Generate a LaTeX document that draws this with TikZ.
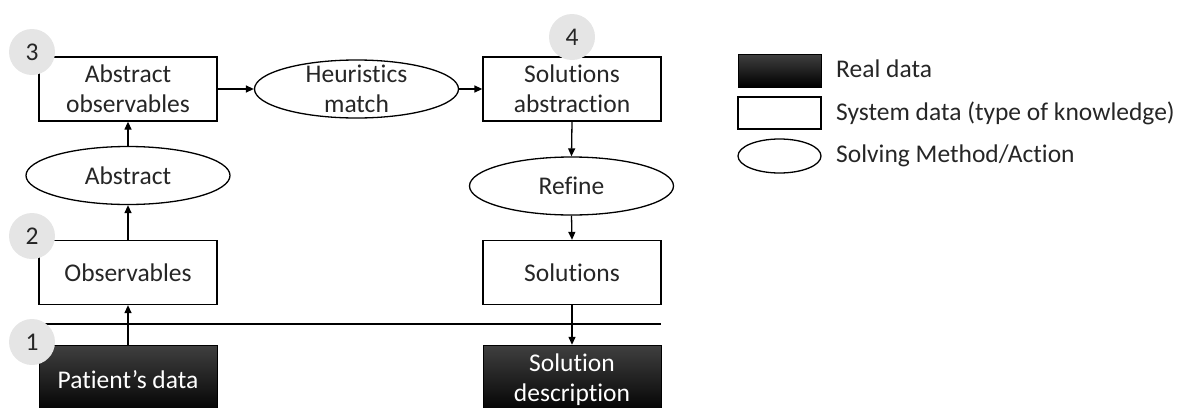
\documentclass[tikz,border=0pt]{standalone}
\usepackage{fontspec}
\setmainfont{Carlito}[Ligatures={NoCommon}]
\usetikzlibrary{arrows.meta,shapes.geometric}

\tikzset{
  sysbox/.style={draw, line width=1.3pt, fill=white, minimum width=178pt, minimum height=64pt, align=center, inner sep=0pt},
  realbox/.style={draw=black, top color=black!75, middle color=black, bottom color=black, text=white, minimum width=178pt, minimum height=70pt, align=center, inner sep=0pt},
  oval/.style={draw, ellipse, line width=1.3pt, fill=white, minimum width=204pt, minimum height=58pt, inner sep=0pt},
  badge/.style={circle, fill=black!10, minimum size=46pt, inner sep=0pt},
  flow/.style={line width=1.3pt, -{Triangle[length=8pt,width=7pt]}},
}

\begin{document}
\begin{tikzpicture}[x=1pt, y=-1pt, every node/.style={font=\fontsize{25.5}{30}\selectfont, text=black!85}]
  \useasboundingbox (0,0) rectangle (1182,407);
  \clip (0,0) rectangle (1182,407);

  % left column: from patient data up to abstract observables
  \node[realbox] (patient) at (128,380) {Patient's data};
  \node[sysbox] (obs) at (128,272.5) {Observables};
  \node[oval, label={center:Abstract}] (abst) at (128,175.5) {};
  \node[sysbox] (absobs) at (128,89) {Abstract\\observables};

  % matching step
  \node[oval, label={[align=center]center:Heuristics\\match}] (heur) at (356.5,89) {};

  % right column: down to the solution description
  \node[sysbox] (solabs) at (572,89) {Solutions\\abstraction};
  \node[oval, label={center:Refine}] (refine) at (571.5,186) {};
  \node[sysbox] (sols) at (572,272.5) {Solutions};
  \node[realbox, text=white] (soldesc) at (572,380) {Solution\\description};

  % boundary between real and system data
  \coordinate (sepL) at (43,324);
  \coordinate (sepR) at (661,324);
  \draw[line width=1.3pt] (sepL) -- (sepR);

  \draw[flow] (patient.north) -- (obs.south);
  \draw[flow] (obs.north) -- (abst.south);
  \draw[flow] (abst.north) -- (absobs.south);
  \draw[flow] (absobs.east) -- (heur.west);
  \draw[flow] (heur.east) -- (solabs.west);
  \draw[flow] (solabs.south) -- (refine.north);
  \draw[flow] (refine.south) -- (sols.north);
  \draw[flow] (sols.south) -- (soldesc.north);

  % step numbers
  \node[badge] (n1) at (32,342) {1};
  \node[badge] (n2) at (32,236) {2};
  \node[badge] (n3) at (32,52) {3};
  \node[badge] (n4) at (572,37) {4};

  % key
  \node[realbox, minimum width=83pt, minimum height=33pt] (keyreal) at (779.5,70.5) {};
  \node[sysbox, minimum width=83pt, minimum height=32pt] (keysys) at (779.5,113) {};
  \node[oval, minimum width=83pt, minimum height=34pt] (keyact) at (779.5,156) {};
  \node[anchor=west, inner sep=0pt] (lblreal) at (836,69) {Real data};
  \node[anchor=west, inner sep=0pt] (lblsys) at (836,113) {System data (type of knowledge)};
  \node[anchor=west, inner sep=0pt] (lblact) at (836,156) {Solving Method/Action};
\end{tikzpicture}
\end{document}
